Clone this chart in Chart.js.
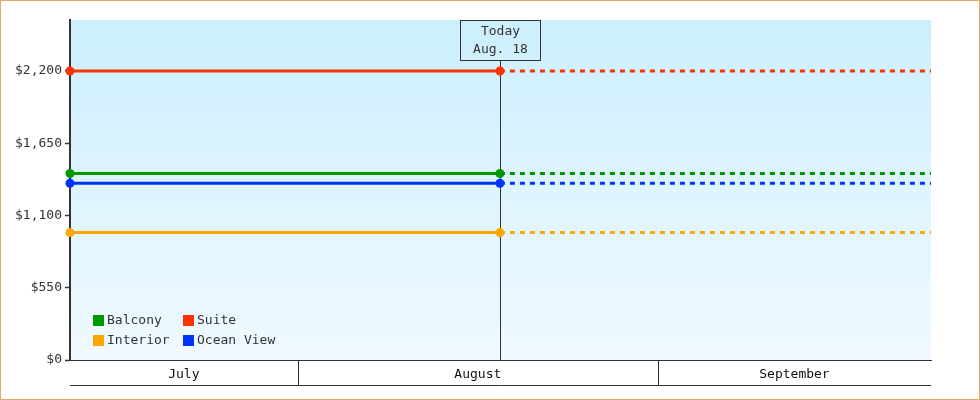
<!DOCTYPE html>
<html>
<head>
<meta charset="utf-8">
<script src="https://cdn.jsdelivr.net/npm/chart.js@4"></script>
<style>
  html, body { margin: 0; padding: 0; background: #fff; }
  #wrap { width: 980px; height: 400px; position: relative; }
</style>
</head>
<body>
<div id="wrap"><canvas id="myChart" width="980" height="400"></canvas></div>
<script>
  // cabin categories and their price (USD)
  const cabins = ['Balcony', 'Suite', 'Interior', 'Ocean View'];
  const prices = [1420, 2200, 970, 1345];
  const colors = ['rgb(0, 153, 0)', 'rgb(255, 51, 0)', 'rgb(255, 165, 0)', 'rgb(0, 51, 255)'];

  // x axis is in days counted from July 1 (day 0)
  const months = ['July', 'August', 'September'];
  const monthStarts = [0, 31, 62, 92];
  const dayFirst = 11.4;
  const dayToday = 48.4;
  const dayLast = 85.5;
  const todayLabel = ['Today', 'Aug. 18'];

  const yTicks = [0, 550, 1100, 1650, 2200];
  const yMax = 2588;

  const FONT = '"DejaVu Sans Mono", "Liberation Mono", monospace';

  const datasets = cabins.map((name, i) => ({
    label: name,
    data: [
      { x: dayFirst, y: prices[i] },
      { x: dayToday, y: prices[i] },
      { x: dayLast, y: prices[i] }
    ],
    borderColor: colors[i],
    backgroundColor: colors[i],
    borderWidth: 3,
    pointRadius: [4.5, 4.5, 0],
    pointHoverRadius: [4.5, 4.5, 0],
    pointBorderWidth: 0,
    clip: false,
    segment: {
      borderDash: ctx => ctx.p0.parsed.x >= dayToday - 0.001 ? [5, 5] : undefined
    }
  }));

  const decor = {
    id: 'decor',
    beforeDraw(chart) {
      const { ctx, chartArea: a } = chart;
      ctx.save();
      ctx.fillStyle = '#fff';
      ctx.fillRect(0, 0, chart.width, chart.height);
      const g = ctx.createLinearGradient(0, a.top, 0, a.bottom);
      g.addColorStop(0, '#cceffd');
      g.addColorStop(1, '#f0f9ff');
      ctx.fillStyle = g;
      ctx.fillRect(a.left, a.top, a.right - a.left, a.bottom - a.top);
      ctx.restore();
    },
    beforeDatasetsDraw(chart) {
      const { ctx, chartArea: a, scales: { x } } = chart;
      const tx = Math.round(x.getPixelForValue(dayToday)) + 0.5;
      ctx.save();
      ctx.strokeStyle = '#333';
      ctx.lineWidth = 1;
      // today box
      ctx.strokeRect(tx - 40, a.top + 0.5, 80, 40);
      ctx.beginPath();
      ctx.moveTo(tx, a.top + 40.5);
      ctx.lineTo(tx, a.bottom);
      ctx.stroke();
      ctx.fillStyle = '#333';
      ctx.font = '13px ' + FONT;
      ctx.textAlign = 'center';
      ctx.textBaseline = 'middle';
      ctx.fillText(todayLabel[0], tx, a.top + 12);
      ctx.fillText(todayLabel[1], tx, a.top + 30);
      ctx.restore();
    },
    afterDraw(chart) {
      const { ctx, chartArea: a, scales: { x } } = chart;
      ctx.save();
      ctx.strokeStyle = '#333';
      ctx.lineWidth = 1;
      // month band
      ctx.beginPath();
      ctx.moveTo(a.left, a.bottom + 25.5);
      ctx.lineTo(a.right, a.bottom + 25.5);
      monthStarts.forEach(d => {
        if (d > dayFirst && d < dayLast) {
          const px = Math.round(x.getPixelForValue(d)) + 0.5;
          ctx.moveTo(px, a.bottom);
          ctx.lineTo(px, a.bottom + 25);
        }
      });
      ctx.stroke();
      // legend, 2 columns
      ctx.font = '13px ' + FONT;
      ctx.textBaseline = 'middle';
      ctx.textAlign = 'left';
      chart.data.datasets.forEach((ds, i) => {
        const col = i % 2, row = Math.floor(i / 2);
        const lx = a.left + 23 + col * 90;
        const ly = a.bottom - 40 + row * 20;
        ctx.fillStyle = ds.borderColor;
        ctx.fillRect(lx, ly - 5, 11, 11);
        ctx.fillStyle = '#333';
        ctx.fillText(ds.label, lx + 14, ly + 1);
      });
      // outer border
      ctx.strokeStyle = '#eba862';
      ctx.strokeRect(0.5, 0.5, chart.width - 1, chart.height - 1);
      ctx.restore();
    }
  };

  const config = {
    type: 'line',
    data: { datasets: datasets },
    options: {
      responsive: false,
      animation: false,
      events: [],
      layout: { padding: { left: 0, top: 20, right: 49, bottom: 0 } },
      plugins: { legend: { display: false }, tooltip: { enabled: false } },
      scales: {
        x: {
          type: 'linear',
          min: dayFirst,
          max: dayLast,
          afterFit: s => { s.height = 40; },
          afterBuildTicks: s => {
            s.ticks = months.map((m, i) => ({
              value: (Math.max(monthStarts[i], dayFirst) + Math.min(monthStarts[i + 1], dayLast)) / 2
            }));
          },
          grid: { display: false, drawTicks: false },
          border: { display: true, color: '#333', width: 1 },
          ticks: {
            autoSkip: false,
            maxRotation: 0,
            padding: 7,
            color: '#111',
            font: { family: FONT, size: 13 },
            callback: (v, i) => months[i]
          }
        },
        y: {
          min: 0,
          max: yMax,
          afterFit: s => { s.width = 70; },
          afterBuildTicks: s => { s.ticks = yTicks.map(v => ({ value: v })); },
          grid: { drawOnChartArea: false, drawTicks: true, tickLength: 5, tickColor: '#333', tickWidth: 1.5 },
          border: { display: true, color: '#333', width: 2 },
          ticks: {
            padding: 3,
            color: '#333',
            font: { family: FONT, size: 13 },
            callback: v => '$' + v.toLocaleString('en-US')
          }
        }
      }
    },
    plugins: [decor]
  };

  const myChart = new Chart(document.getElementById('myChart'), config);
</script>
</body>
</html>
